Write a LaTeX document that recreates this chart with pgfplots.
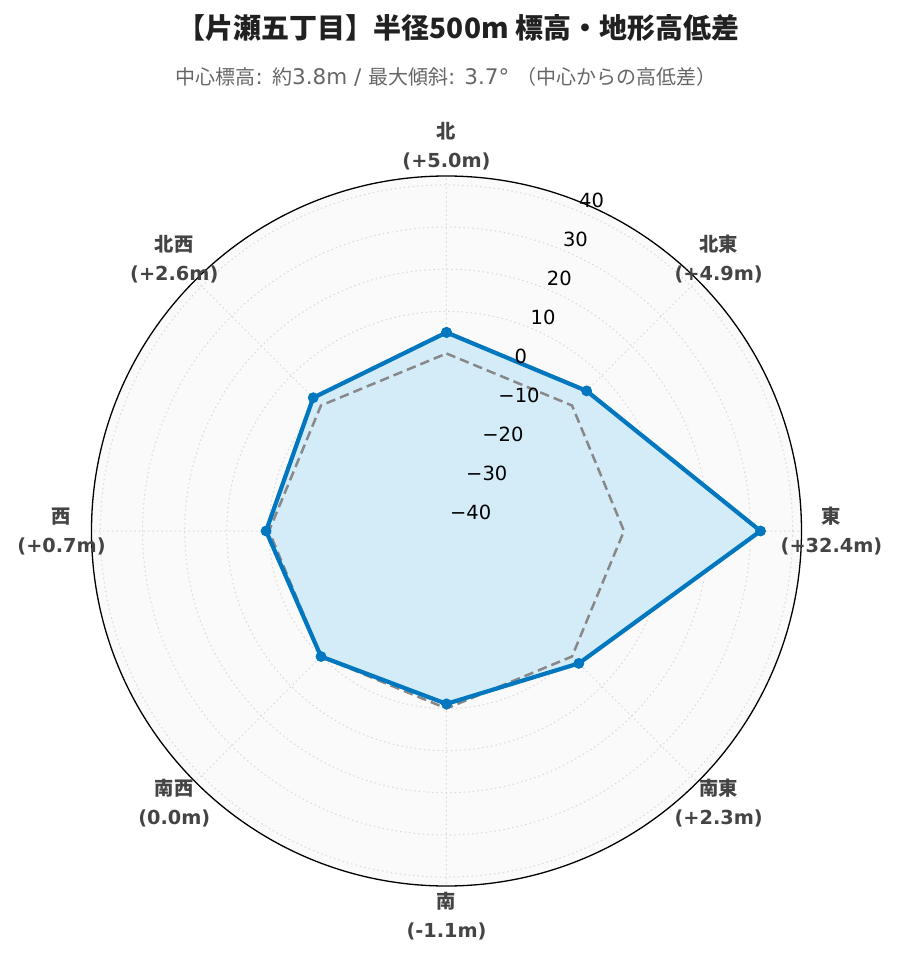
\documentclass[border=0pt]{standalone}
\usepackage{fontspec}
\setmainfont{DejaVu Sans}
\newfontfamily\cjk{Noto Sans CJK JP}
\usepackage{pgfplots}
\usepackage{pgfplotstable}
\pgfplotsset{compat=1.18}
\usepgfplotslibrary{polar}

\definecolor{elevline}{RGB}{0,119,190}
\definecolor{elevfill}{RGB}{212,236,248}
\definecolor{basegray}{RGB}{136,136,136}
\definecolor{gridgray}{RGB}{218,218,218}
\definecolor{bggray}{RGB}{250,250,250}
\definecolor{labelgray}{RGB}{68,68,68}
\definecolor{subgray}{RGB}{102,102,102}

% angle: E=0, N=90 ; diff = elevation difference from centre (m)
\pgfplotstableread{
angle diff
90  5.0
45  4.9
0   32.4
315 2.3
270 -1.1
225 0.0
180 0.7
135 2.6
90  5.0
}\terrain

\pgfplotstableread{
angle diff
90  0
45  0
0   0
315 0
270 0
225 0
180 0
135 0
90  0
}\baseline

\newcommand\jp[1]{{\cjk\fontsize{20}{24}\selectfont #1}}

\begin{document}
\begin{tikzpicture}
\path[use as bounding box] (0,0) rectangle (900pt,962pt);
\fill[bggray] (446.5pt,431pt) circle (355pt);

\node[font=\cjk\bfseries\fontsize{28}{32}\selectfont, text=black!87] at (458.5pt,934pt) {【片瀬五丁目】半径500m 標高・地形高低差};
\node[font=\fontsize{21.5}{24}\selectfont, text=subgray] at (446pt,885pt)
  {\jp{中心標高}: \jp{約}3.8m / \jp{最大傾斜}: 3.7° \jp{（中心からの高低差）}};

\begin{polaraxis}[
    at={(446.5pt,431pt)}, anchor=center,
    width=710pt, height=710pt, scale only axis,
    xmin=0, xmax=360,
    ymin=0, ymax=84.24,
    xtick={0,45,...,315}, xticklabels={},
    ytick={2.12,12.12,22.12,32.12,42.12,52.12,62.12,72.12,82.12},
    yticklabels={},
    major tick length=0pt,
    xmajorgrids, ymajorgrids,
    major grid style={draw=gridgray, line width=1pt, dash pattern=on 1.5pt off 3pt},
    x axis line style={black, line width=1.3pt},
    y axis line style={draw=none},
    y filter/.expression={y+42.12},
    clip=false,
    ]
    \addplot[draw=none, fill=elevfill] table[x=angle, y=diff] {\terrain};
    \addplot[basegray, line width=2.5pt, dash pattern=on 9.5pt off 5pt] table[x=angle, y=diff] {\baseline};
    \addplot[elevline, line width=4.2pt, mark=*, mark size=5pt, mark options={solid, fill=elevline, line width=0.8pt}] table[x=angle, y=diff] {\terrain};

    % radial tick labels along the 67.5 degree ray
    \begin{scope}[every node/.style={anchor=base west, yshift=3.5pt, inner sep=0pt, font=\fontsize{19.5}{23}\selectfont}]
    \node at (axis cs:67.5,2.12)  {−40};
    \node at (axis cs:67.5,12.12) {−30};
    \node at (axis cs:67.5,22.12) {−20};
    \node at (axis cs:67.5,32.12) {−10};
    \node at (axis cs:67.5,42.12) {0};
    \node at (axis cs:67.5,52.12) {10};
    \node at (axis cs:67.5,62.12) {20};
    \node at (axis cs:67.5,72.12) {30};
    \node at (axis cs:67.5,82.12) {40};
    \end{scope}

    % direction labels
    \begin{scope}[every node/.style={align=center, text=labelgray, font=\bfseries\fontsize{19.3}{29}\selectfont}]
    \node at (axis cs:90,91.35)  {{\cjk 北}\\(+5.0m)};
    \node at (axis cs:45,91.35)  {{\cjk 北東}\\(+4.9m)};
    \node at (axis cs:0,91.35)   {{\cjk 東}\\(+32.4m)};
    \node at (axis cs:315,91.35) {{\cjk 南東}\\(+2.3m)};
    \node at (axis cs:270,91.35) {{\cjk 南}\\(-1.1m)};
    \node at (axis cs:225,91.35) {{\cjk 南西}\\(0.0m)};
    \node at (axis cs:180,91.35) {{\cjk 西}\\(+0.7m)};
    \node at (axis cs:135,91.35) {{\cjk 北西}\\(+2.6m)};
    \end{scope}
\end{polaraxis}
\end{tikzpicture}
\end{document}
